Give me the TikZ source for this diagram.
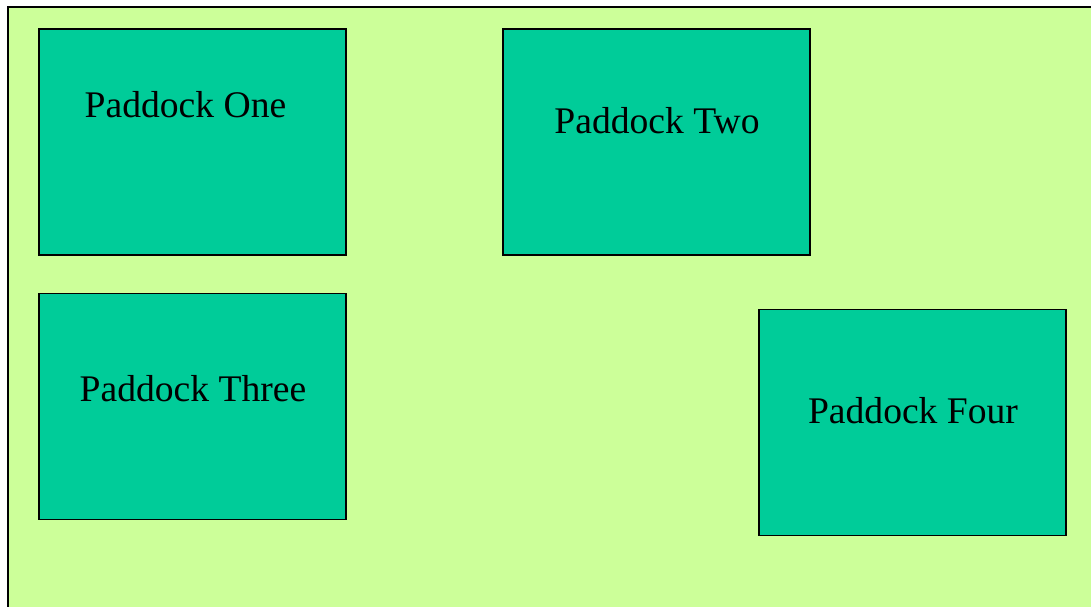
\documentclass[tikz,border=0pt]{standalone}
\usepackage{fontspec}
\setmainfont{Liberation Serif}
\usepackage{tikz}
\usetikzlibrary{positioning}
\definecolor{fieldgreen}{HTML}{CCFF99}
\definecolor{paddockgreen}{HTML}{00CC99}

\begin{document}
\begin{tikzpicture}[
  x=0.5pt, y=-0.5pt,
  field/.style={fill=fieldgreen, draw=black, line width=1pt},
  paddock/.style={fill=paddockgreen, draw=black, line width=0.8pt,
    minimum width=153.5pt, minimum height=113pt, inner sep=0pt},
  paddock_label/.style={font=\fontsize{18.8}{22}\selectfont, inner sep=0pt}
]

% Picture frame
\clip (0,0) rectangle (1091,606);

% Farm field (runs off the right and bottom edges)
\draw[field] (8,7) rectangle (1110,625);

% Paddocks
\node[paddock] (one) at (192.5,142) {};
\node[paddock] (two) at (656.5,142) {};
\node[paddock] (three) at (192.5,406.5) {};
\node[paddock] (four) at (912.5,422.5) {};

% Paddock names
\node[paddock_label] (one_name) at (185.5,104.5) {Paddock One};
\node[paddock_label] (two_name) at (657,121) {Paddock Two};
\node[paddock_label] (three_name) at (193,389) {Paddock Three};
\node[paddock_label] (four_name) at (913,411) {Paddock Four};

\end{tikzpicture}
\end{document}
